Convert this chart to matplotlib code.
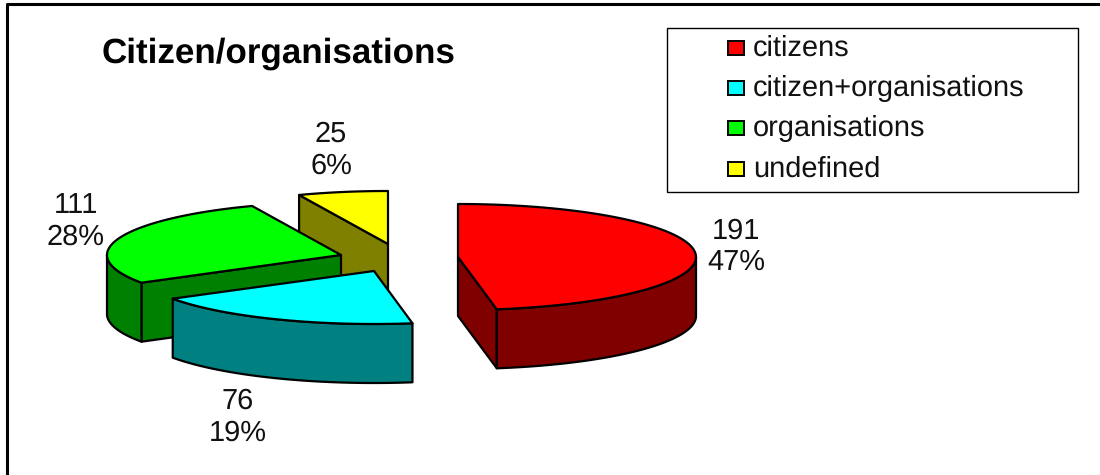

# Citizen/organisations: exploded 3D-looking pie, projected by hand
import numpy as np
import matplotlib.pyplot as plt
from matplotlib.patches import Polygon, Rectangle

# Data
categories = ['citizens', 'citizen+organisations', 'organisations', 'undefined']
values     = [191, 76, 111, 25]

# Styles and layout, in pixels of the 1100x475 image
top_colors  = ['#ff0000', '#00ffff', '#00ff00', '#ffff00']
side_colors = ['#800000', '#008080', '#008000', '#808000']
apex_x = [458, 374, 341, 388]
apex_y = [257, 271, 255, 244]
slice_rx = [238, 236, 234, 234]
label_x = [736, 238, 76, 331]
label_y = [247, 417, 221, 150]
legend_y = [48, 88, 128, 169]
ry = 53
depth = 59

plt.rcParams['font.family'] = ['Liberation Sans', 'DejaVu Sans']
plt.rcParams['text.hinting'] = 'no_hinting'
plt.rcParams['text.hinting_factor'] = 1

fig = plt.figure(figsize=(11, 4.75), dpi=100)
ax = fig.add_axes([0, 0, 1, 1])
ax.set_xlim(0, 1100)
ax.set_ylim(475, 0)
ax.axis('off')

# Angles run clockwise from 12 o'clock
total = sum(values)
edges = 360*np.cumsum([0] + values)/total

def rim(cx, cy, rx, a0, a1):
    t = np.radians(np.linspace(a0, a1, 80))
    return np.column_stack([cx + rx*np.sin(t), cy - ry*np.cos(t)])

def face(points, color, z):
    ax.add_patch(Polygon(points, closed=True, fc=color, ec='black', lw=1.6,
                         joinstyle='round', zorder=z))

# Painter's order: back slices first
for z, i in enumerate([3, 2, 1, 0]):
    a0, a1 = edges[i], edges[i+1]
    cx, cy, rx = apex_x[i], apex_y[i], slice_rx[i]
    down = np.array([0, depth])
    apex = np.array([[cx, cy]])
    # flat sides of the slice, only those facing the viewer
    if np.sin(np.radians(a0)) < -1e-6:
        edge = np.vstack([apex, rim(cx, cy, rx, a0, a0)[:1]])
        face(np.vstack([edge, edge[::-1] + down]), side_colors[i], z*10)
    if np.sin(np.radians(a1)) > 1e-6:
        edge = np.vstack([apex, rim(cx, cy, rx, a1, a1)[:1]])
        face(np.vstack([edge, edge[::-1] + down]), side_colors[i], z*10)
    # outer wall, front half of the ellipse only
    w0, w1 = max(a0, 90), min(a1, 270)
    if w1 > w0:
        wall = rim(cx, cy, rx, w0, w1)
        face(np.vstack([wall, wall[::-1] + down]), side_colors[i], z*10 + 1)
    # top
    face(np.vstack([apex, rim(cx, cy, rx, a0, a1)]), top_colors[i], z*10 + 2)
    pct = round(100*values[i]/total)
    ax.text(label_x[i], label_y[i], f'{values[i]}\n{pct}%', ha='center', va='center',
            fontsize=21, linespacing=1.22, color='#111111', zorder=100)

# Outer frame
ax.plot([1100, 7, 7], [4, 4, 475], color='black', lw=2.2, solid_capstyle='butt')

ax.text(102, 54, 'Citizen/organisations', fontsize=25.2, fontweight='bold', va='center', ha='left')

# Legend
ax.add_patch(Rectangle((666.5, 28), 411, 164, fc='white', ec='black', lw=1))
for i, name in enumerate(categories):
    ax.add_patch(Rectangle((728, legend_y[i] - 7), 16, 14, fc=top_colors[i], ec='black', lw=1.4, zorder=5))
    ax.text(753, legend_y[i], name, fontsize=21.2, va='center', ha='left', color='#111111')

fig.savefig('out.png', dpi=100)
